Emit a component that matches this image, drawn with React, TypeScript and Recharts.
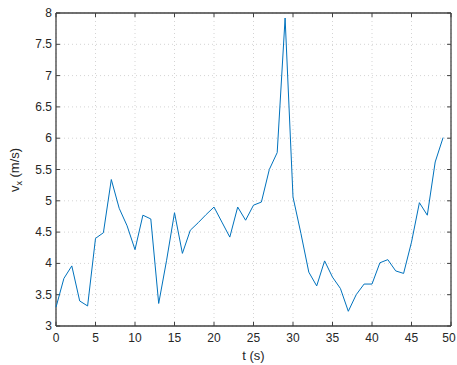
import { LineChart, Line, XAxis, YAxis, CartesianGrid, ReferenceLine } from 'recharts'

const times = Array.from({ length: 50 }, (_, i) => i)
const velocity = [
  3.30, 3.76, 3.96, 3.40, 3.32, 4.40, 4.49, 5.34, 4.88, 4.60,
  4.22, 4.77, 4.71, 3.36, 4.05, 4.81, 4.16, 4.53, 4.65, 4.78,
  4.90, 4.66, 4.42, 4.90, 4.69, 4.93, 4.98, 5.50, 5.77, 7.92,
  5.06, 4.48, 3.86, 3.64, 4.04, 3.78, 3.60, 3.235, 3.50, 3.67,
  3.67, 4.01, 4.06, 3.88, 3.84, 4.34, 4.97, 4.77, 5.62, 6.01,
]
const xTicks = [0, 5, 10, 15, 20, 25, 30, 35, 40, 45, 50]
const yTicks = [3, 3.5, 4, 4.5, 5, 5.5, 6, 6.5, 7, 7.5, 8]

const axisColor = '#262626'
const frameColor = '#404040'
const font = '"Liberation Sans", Arial, sans-serif'
// inward tick length in data units (~4px)
const xTickLen = 0.5
const yTickLen = 0.065

const data = times.map((t, i) => ({ t, v: velocity[i] }))

function LeftTick({ x, y, payload }: any) {
  return (
    <text x={x - 4} y={y} dy={4} textAnchor='end' fontSize={12} fill={axisColor} fontFamily={font}>
      {payload.value}
    </text>
  )
}

function BottomTick({ x, y, payload }: any) {
  return (
    <text x={x} y={y + 16} textAnchor='middle' fontSize={12} fill={axisColor} fontFamily={font}>
      {payload.value}
    </text>
  )
}

export default function App() {
  return (
    <div style={{ position: 'absolute', left: 0, top: 0, width: 457, height: 365, background: '#fff' }}>
      <LineChart width={457} height={365} data={data} margin={{ top: 13, right: 6, left: 16, bottom: 9 }}>
        <CartesianGrid stroke='#d4d4d4' strokeDasharray='1 3' horizontal vertical />
        <XAxis
          dataKey='t'
          type='number'
          domain={[0, 50]}
          ticks={xTicks}
          height={30}
          tickSize={0}
          tickMargin={0}
          tick={<BottomTick />}
          axisLine={false}
          label={{ value: 't (s)', position: 'insideBottom', offset: -4, fontSize: 13, fill: axisColor, fontFamily: font }}
        />
        <YAxis
          type='number'
          domain={[3, 8]}
          ticks={yTicks}
          width={40}
          tickSize={0}
          tickMargin={0}
          tick={<LeftTick />}
          axisLine={false}
          label={{
            content: () => (
              <text transform='translate(19,170) rotate(-90)' textAnchor='middle' fontSize={13} fill={axisColor} fontFamily={font}>
                v<tspan fontSize={9} dy={3}>x</tspan><tspan dy={-3}> (m/s)</tspan>
              </text>
            ),
          }}
        />
        {xTicks.map((t) => (
          <ReferenceLine key={'xb' + t} segment={[{ x: t, y: 3 }, { x: t, y: 3 + yTickLen }]} stroke={frameColor} ifOverflow='visible' />
        ))}
        {xTicks.map((t) => (
          <ReferenceLine key={'xt' + t} segment={[{ x: t, y: 8 }, { x: t, y: 8 - yTickLen }]} stroke={frameColor} ifOverflow='visible' />
        ))}
        {yTicks.map((v) => (
          <ReferenceLine key={'yl' + v} segment={[{ x: 0, y: v }, { x: xTickLen, y: v }]} stroke={frameColor} ifOverflow='visible' />
        ))}
        {yTicks.map((v) => (
          <ReferenceLine key={'yr' + v} segment={[{ x: 50, y: v }, { x: 50 - xTickLen, y: v }]} stroke={frameColor} ifOverflow='visible' />
        ))}
        <ReferenceLine x={0} stroke={frameColor} strokeWidth={1.3} ifOverflow='visible' />
        <ReferenceLine x={50} stroke={frameColor} strokeWidth={1.3} ifOverflow='visible' />
        <ReferenceLine y={3} stroke={frameColor} strokeWidth={1.3} ifOverflow='visible' />
        <ReferenceLine y={8} stroke={frameColor} strokeWidth={1.3} ifOverflow='visible' />
        <Line
          type='linear'
          dataKey='v'
          stroke='#0072BD'
          strokeWidth={1}
          dot={false}
          isAnimationActive={false}
        />
      </LineChart>
    </div>
  )
}
